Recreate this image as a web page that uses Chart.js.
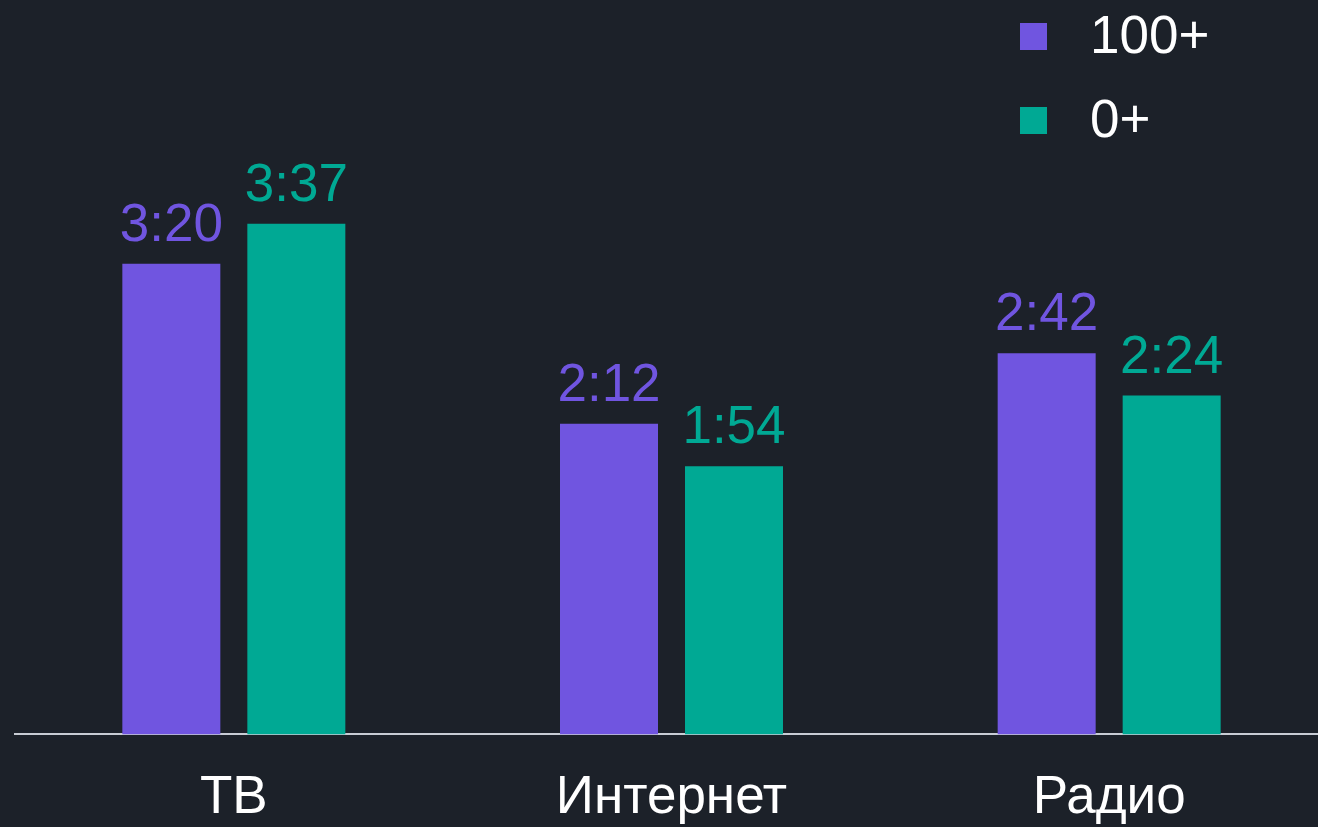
<!DOCTYPE html>
<html>
<head>
<meta charset="utf-8">
<script src="https://cdn.jsdelivr.net/npm/chart.js@4"></script>
<style>
  html, body { margin: 0; padding: 0; background: #1c2129; overflow: hidden; }
  #wrap { position: absolute; left: 0; top: 0; width: 1328px; height: 862px; }
</style>
</head>
<body>
<div id="wrap"><canvas id="mediaChart"></canvas></div>
<script>
// Данные: время в минутах
const categories = ["ТВ", "Интернет", "Радио"];
const seriesNames = ["100+", "0+"];
const values100 = [200, 132, 162]; // 3:20, 2:12, 2:42
const values0 = [217, 114, 144];   // 3:37, 1:54, 2:24
const seriesColors = ["#7055e0", "#00a994"];

const fontFamily = "'Liberation Sans', Arial, sans-serif";
Chart.defaults.font.family = fontFamily;

// минуты -> "ч:мм"
function toTime(m) {
  const h = Math.floor(m / 60);
  const mm = m % 60;
  return h + ":" + (mm < 10 ? "0" + mm : mm);
}

// фон
const bgPlugin = {
  id: "bg",
  beforeDraw(chart) {
    const ctx = chart.ctx;
    ctx.save();
    ctx.fillStyle = "#1c2129";
    ctx.fillRect(0, 0, chart.width, chart.height);
    ctx.restore();
  }
};

// подписи значений над столбиками
const valueLabels = {
  id: "valueLabels",
  afterDatasetsDraw(chart) {
    const ctx = chart.ctx;
    ctx.save();
    ctx.font = "53px " + fontFamily;
    ctx.textAlign = "center";
    ctx.textBaseline = "alphabetic";
    chart.data.datasets.forEach((ds, i) => {
      chart.getDatasetMeta(i).data.forEach((bar, j) => {
        ctx.fillStyle = ds.backgroundColor;
        ctx.fillText(toTime(ds.data[j]), bar.x, bar.y - 23);
      });
    });
    ctx.restore();
  }
};

// легенда в правом верхнем углу, столбиком
const cornerLegend = {
  id: "cornerLegend",
  afterDraw(chart) {
    const ctx = chart.ctx;
    ctx.save();
    ctx.font = "53px " + fontFamily;
    ctx.textBaseline = "middle";
    ctx.textAlign = "left";
    chart.data.datasets.forEach((ds, i) => {
      const y = 23 + i * 84;
      ctx.fillStyle = ds.backgroundColor;
      ctx.fillRect(1020, y, 27, 27);
      ctx.fillStyle = "#ffffff";
      ctx.fillText(ds.label, 1090, y + 15);
    });
    ctx.restore();
  }
};

new Chart("mediaChart", {
  type: "bar",
  data: {
    labels: categories,
    datasets: [
      { label: seriesNames[0], data: values100, backgroundColor: seriesColors[0] },
      { label: seriesNames[1], data: values0, backgroundColor: seriesColors[1] }
    ]
  },
  options: {
    responsive: true,
    maintainAspectRatio: false,
    animation: false,
    categoryPercentage: 0.5712,
    barPercentage: 0.784,
    layout: { padding: { left: 15, right: 0, top: 28.5, bottom: 0 } },
    plugins: {
      legend: { display: false },
      tooltip: { enabled: false }
    },
    scales: {
      x: {
        grid: { display: false, drawTicks: false },
        border: { display: true, color: "#c8ccd4", width: 2 },
        ticks: {
          color: "#ffffff",
          padding: 32,
          font: { size: 53, lineHeight: 1.2 }
        }
      },
      y: {
        display: false,
        min: 0,
        max: 300
      }
    }
  },
  plugins: [bgPlugin, valueLabels, cornerLegend]
});
</script>
</body>
</html>
